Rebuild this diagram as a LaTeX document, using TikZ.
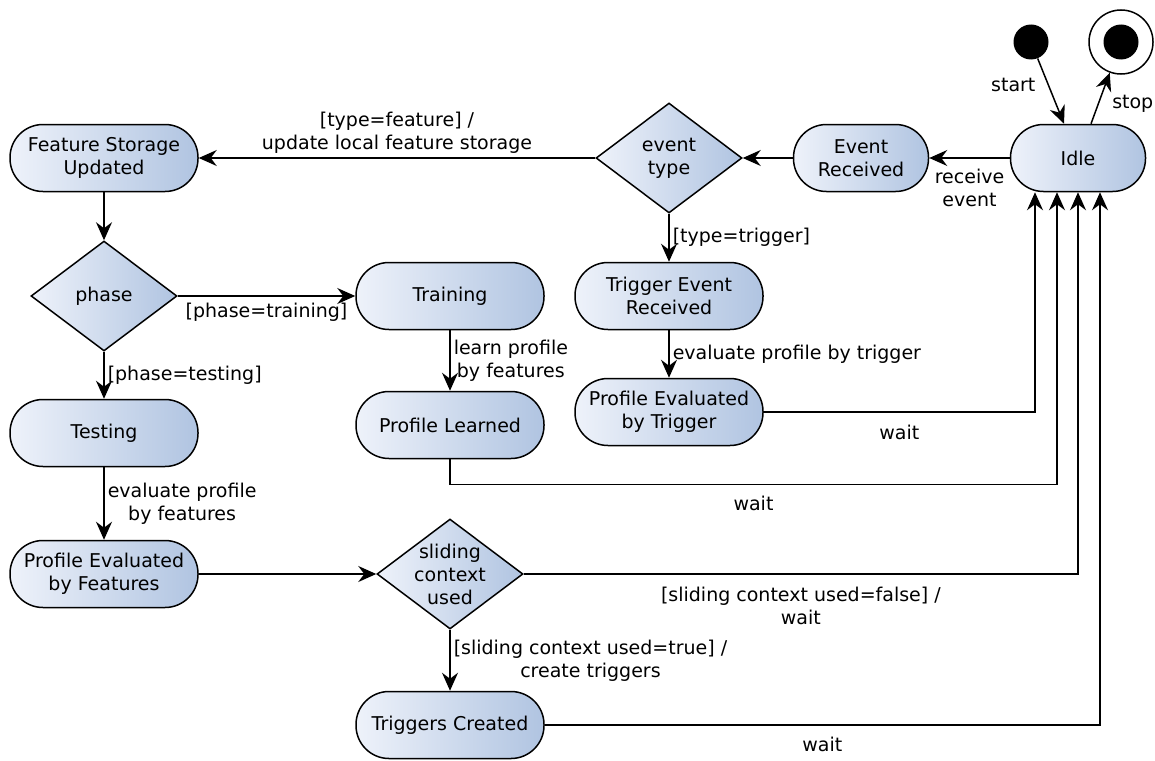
\documentclass[tikz,border=0pt]{standalone}
\usepackage{fontspec}
\setmainfont{DejaVu Sans}
\usetikzlibrary{shapes.geometric,arrows.meta}
\definecolor{stateL}{RGB}{238,242,250}
\definecolor{stateR}{RGB}{176,196,225}
\newcommand{\lbl}{\fontsize{19}{23}\selectfont}
\tikzset{
  base/.style={draw=black, line width=1.5pt, left color=stateL, right color=stateR,
               align=center, inner sep=0pt, font=\lbl},
  state/.style={base, rectangle, rounded corners=33pt, minimum height=67pt, minimum width=135pt},
  wide/.style={minimum width=188pt},
  choice/.style={base, diamond, minimum width=146pt, minimum height=110pt},
  flow/.style={draw, line width=1.5pt, -{Stealth[length=18pt,width=16pt,inset=6pt]}},
  lab/.style={font=\lbl, align=center, inner sep=3pt},
  ctext/.style={font=\lbl, align=center, inner sep=0pt},
}
\begin{document}
\begin{tikzpicture}[x=1pt, y=-1pt]
\useasboundingbox (0,0) rectangle (1155,760);

% initial and final pseudo-states
\node[circle, fill=black, minimum size=35pt, inner sep=0pt] (start) at (1031,42) {};
\node[circle, draw=black, line width=1.5pt, fill=white, minimum size=64pt, inner sep=0pt] (stop) at (1121,42) {};
\node[circle, fill=black, minimum size=35pt, inner sep=0pt] (stopdot) at (stop.center) {};

% states
\node[state] (idle) at (1078,158) {Idle};
\node[state] (er) at (861,158) {Event\\Received};
\node[choice, label={[ctext]center:{event\\type}}] (et) at (669,158) {};
\node[state, wide] (fsu) at (104,158) {Feature Storage\\Updated};
\node[choice, label={[ctext]center:phase}] (phase) at (104,296) {};
\node[state, wide] (train) at (450,296) {Training};
\node[state, wide] (ter) at (669,296) {Trigger Event\\Received};
\node[state, wide] (test) at (104,433) {Testing};
\node[state, wide] (pl) at (450,425) {Profile Learned};
\node[state, wide] (pebt) at (669,412) {Profile Evaluated\\by Trigger};
\node[state, wide] (pebf) at (104,574) {Profile Evaluated\\by Features};
\node[choice, label={[ctext]center:{sliding\\context\\used}}] (slide) at (450,574) {};
\node[state, wide] (tc) at (450,725) {Triggers Created};

% transitions
\draw[flow] (start) -- node[lab, left=9pt, pos=0.4]{start} ([xshift=-14pt]idle.north);
\draw[flow] ([xshift=13pt]idle.north) -- node[lab, right=10pt, pos=0.4]{stop} (stop);
\draw[flow] (idle) -- node[lab, below=7pt]{receive\\event} (er);
\draw[flow] (er) -- (et);
\draw[flow] (et) -- node[lab, above=1pt]{[type=feature] /\\update local feature storage} (fsu);
\draw[flow] (et) -- node[lab, right]{[type=trigger]} (ter);
\draw[flow] (ter) -- node[lab, right]{evaluate profile by trigger} (pebt);
\draw[flow] (pebt.east) -| node[lab, pos=0.25, below=9pt]{wait} ([xshift=-43pt]idle.south);
\draw[flow] (fsu) -- (phase);
\draw[flow] (phase) -- node[lab, below=3pt]{[phase=training]} (train);
\draw[flow] (phase) -- node[lab, right]{[phase=testing]} (test);
\draw[flow] (train) -- node[lab, right]{learn profile\\by features} (pl);
\draw[flow] (pl.south) -- ++(0,25) -| node[lab, pos=0.25, below=8pt]{wait} ([xshift=-21pt]idle.south);
\draw[flow] (test) -- node[lab, right]{evaluate profile\\by features} (pebf);
\draw[flow] (pebf) -- (slide);
\draw[flow] (slide.east) -| node[lab, pos=0.25, below=9pt]{[sliding context used=false] /\\wait} (idle.south);
\draw[flow] (slide) -- node[lab, right]{[sliding context used=true] /\\create triggers} (tc);
\draw[flow] (tc.east) -| node[lab, pos=0.25, below=8pt]{wait} ([xshift=22pt]idle.south);
\end{tikzpicture}
\end{document}
